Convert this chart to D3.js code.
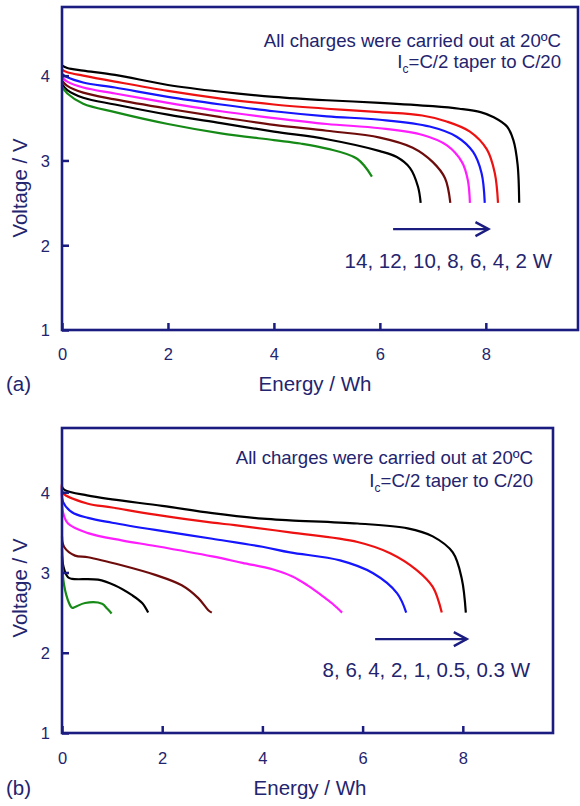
<!DOCTYPE html>
<html>
<head>
<meta charset="utf-8">
<script src="https://cdn.jsdelivr.net/npm/d3@7"></script>
<style>
  html, body { margin: 0; padding: 0; background: #fff; }
  svg { display: block; font-family: "Liberation Sans", Arial, Helvetica, sans-serif; }
</style>
</head>
<body>
<svg id="chart" width="580" height="806"></svg>
<script>
// Discharge curves, voltage (V) against delivered energy (Wh), for constant-power loads.

// Panel (a): 14 ... 2 W discharges
const powersA = ["2 W", "4 W", "6 W", "8 W", "10 W", "12 W", "14 W"];
const colorsA = ["#000000", "#ee1111", "#1515ff", "#ff1cff", "#6e0c0c", "#000000", "#168a16"];
const curveA2W = [[0,4.12],[0.1,4.09],[0.4,4.06],[1,4.01],[2,3.89],[3,3.81],[4,3.75],[5,3.71],[6,3.68],[7,3.64],[7.5,3.61],[7.9,3.57],[8.15,3.51],[8.4,3.40],[8.52,3.24],[8.6,2.95],[8.63,2.5]];
const curveA4W = [[0,4.07],[0.1,4.04],[0.4,4.0],[1,3.93],[2,3.82],[3,3.73],[4,3.66],[5,3.61],[6,3.57],[6.8,3.53],[7.26,3.46],[7.7,3.34],[8.02,3.13],[8.17,2.85],[8.23,2.5]];
const curveA6W = [[0,4.02],[0.1,3.98],[0.4,3.92],[1,3.86],[2,3.75],[3,3.66],[4,3.58],[5,3.52],[6,3.48],[6.94,3.40],[7.45,3.28],[7.76,3.10],[7.92,2.85],[7.98,2.5]];
const curveA8W = [[0,3.98],[0.1,3.93],[0.4,3.86],[1,3.79],[2,3.68],[3,3.58],[4,3.50],[5,3.43],[6,3.38],[6.81,3.30],[7.26,3.18],[7.55,2.98],[7.66,2.77],[7.70,2.5]];
const curveA10W = [[0,3.94],[0.1,3.88],[0.4,3.80],[1,3.72],[2,3.61],[3,3.51],[4,3.42],[5,3.35],[6,3.27],[6.62,3.15],[7.0,2.98],[7.23,2.79],[7.33,2.5]];
const curveA12W = [[0,3.90],[0.1,3.83],[0.4,3.74],[1,3.66],[2,3.54],[3,3.44],[4,3.34],[5,3.25],[6,3.11],[6.32,3.04],[6.57,2.91],[6.72,2.69],[6.77,2.5]];
const curveA14W = [[0,3.87],[0.1,3.79],[0.4,3.67],[1,3.57],[2,3.43],[3,3.32],[4,3.24],[4.5,3.2],[5,3.14],[5.57,3.02],[5.85,2.81]];

// Panel (b): 8 ... 0.3 W discharges
const powersB = ["0.3 W", "0.5 W", "1 W", "2 W", "4 W", "6 W", "8 W"];
const colorsB = ["#000000", "#ee1111", "#1515ff", "#ff1cff", "#6e0c0c", "#000000", "#168a16"];
const curveB03W = [[0,4.07],[0.05,4.03],[0.5,3.96],[1,3.91],[2,3.83],[3,3.74],[4,3.67],[4.55,3.65],[5.9,3.61],[6.9,3.55],[7.4,3.45],[7.8,3.25],[7.98,2.92],[8.06,2.5]];
const curveB05W = [[0,4.1],[0.02,3.99],[0.5,3.86],[1,3.81],[1.86,3.72],[3,3.62],[3.45,3.59],[4.55,3.50],[5.9,3.38],[6.55,3.24],[7.08,3.03],[7.4,2.82],[7.58,2.5]];
const curveB1W = [[0,4.05],[0.02,3.88],[0.2,3.75],[0.52,3.68],[1,3.62],[1.86,3.53],[3,3.42],[4,3.32],[4.55,3.25],[5.55,3.15],[6.21,2.99],[6.69,2.74],[6.87,2.5]];
const curveB2W = [[0,4.0],[0.02,3.75],[0.12,3.61],[0.52,3.49],[1.19,3.40],[1.86,3.33],[3,3.20],[3.6,3.12],[4.2,3.04],[4.6,2.95],[4.9,2.84],[5.15,2.73],[5.4,2.61],[5.59,2.5]];
const curveB4W = [[0,3.45],[0.04,3.32],[0.26,3.21],[0.52,3.19],[1.19,3.09],[1.86,2.97],[2.39,2.84],[2.72,2.68],[2.92,2.53],[2.99,2.5]];
const curveB6W = [[0,3.3],[0.03,3.07],[0.12,2.94],[0.2,2.92],[0.72,2.91],[1.05,2.84],[1.39,2.72],[1.6,2.62],[1.72,2.5]];
const curveB8W = [[0,3.2],[0.04,2.85],[0.14,2.62],[0.2,2.56],[0.26,2.57],[0.46,2.62],[0.8,2.61],[0.9,2.55],[0.99,2.49]];

// Axis ticks and labels shared by both panels
const xTicks = [0, 2, 4, 6, 8];
const yTicks = [1, 2, 3, 4];
const xTitle = "Energy / Wh";
const yTitle = "Voltage / V";
const noteLine1 = "All charges were carried out at 20ºC";
const noteLine2 = ["I", "c", "=C/2 taper to C/20"];
const arrowLabelA = "14, 12, 10, 8, 6, 4, 2 W";
const arrowLabelB = "8, 6, 4, 2, 1, 0.5, 0.3 W";

const AXIS = "#1b1c80";
const TEXT = "#23246e";

const svg = d3.select("#chart");

function drawPanel(p) {
  const g = svg.append("g");
  const x = d3.scaleLinear().domain(p.xDomain).range([p.left, p.right]);
  const y = d3.scaleLinear().domain(p.yDomain).range([p.bottom, p.top]);

  // curves
  const line = d3.line().x(d => x(d[0])).y(d => y(d[1])).curve(d3.curveCatmullRom.alpha(0.5));
  g.append("g").selectAll("path")
    .data(p.series)
    .join("path")
    .attr("d", d => line(d.values))
    .attr("fill", "none")
    .attr("stroke", d => d.color)
    .attr("stroke-width", 2.2)
    .attr("stroke-linejoin", "round")
    .attr("stroke-linecap", "butt");

  // inward ticks on bottom and left axes
  const xAxis = d3.axisBottom(x).tickValues(xTicks).tickSize(-7).tickFormat(d3.format("d")).tickSizeOuter(0);
  const yAxis = d3.axisLeft(y).tickValues(yTicks).tickSize(-7).tickFormat(d3.format("d")).tickSizeOuter(0);

  const gx = g.append("g").attr("transform", `translate(0,${p.bottom})`).call(xAxis)
    .attr("font-size", 16.5).attr("font-family", "Liberation Sans, Arial, sans-serif");
  gx.select(".domain").remove();
  gx.selectAll("line").attr("stroke", AXIS).attr("stroke-width", 2.5);
  gx.selectAll("text").attr("fill", TEXT).attr("y", 0).attr("dy", p.xTickDy);

  const gy = g.append("g").attr("transform", `translate(${p.left},0)`).call(yAxis)
    .attr("font-size", 16.5).attr("font-family", "Liberation Sans, Arial, sans-serif");
  gy.select(".domain").remove();
  gy.selectAll("line").attr("stroke", AXIS).attr("stroke-width", 2.5);
  gy.selectAll("text").attr("fill", TEXT).attr("x", -12).attr("dy", "0.36em");

  // frame
  g.append("rect")
    .attr("x", p.left).attr("y", p.top)
    .attr("width", p.right - p.left).attr("height", p.bottom - p.top)
    .attr("fill", "none").attr("stroke", AXIS).attr("stroke-width", 2.6);

  // axis titles
  g.append("text")
    .attr("x", p.xTitleX).attr("y", p.xTitleY)
    .attr("text-anchor", "middle").attr("font-size", 20.5).attr("fill", TEXT)
    .text(xTitle);
  g.append("text")
    .attr("transform", `translate(${p.yTitleX},${p.yTitleY}) rotate(-90)`)
    .attr("text-anchor", "middle").attr("font-size", 20.5).attr("fill", TEXT)
    .text(yTitle);

  // panel letter
  g.append("text")
    .attr("x", 6).attr("y", p.xTitleY)
    .attr("font-size", 20.5).attr("fill", TEXT)
    .text(p.letter);

  // charge-condition note
  g.append("text")
    .attr("x", p.noteX).attr("y", p.noteY1)
    .attr("text-anchor", "end").attr("font-size", 18.6).attr("fill", TEXT)
    .text(noteLine1);
  const n2 = g.append("text")
    .attr("x", p.noteX).attr("y", p.noteY2)
    .attr("text-anchor", "end").attr("font-size", 18.6).attr("fill", TEXT);
  n2.append("tspan").text(noteLine2[0]);
  n2.append("tspan").attr("font-size", 12).attr("dy", 5).text(noteLine2[1]);
  n2.append("tspan").attr("dy", -5).text(noteLine2[2]);

  // arrow pointing toward lower power
  const ax0 = x(p.arrow[0]), ax1 = x(p.arrow[1]), ay = y(p.arrow[2]);
  g.append("line")
    .attr("x1", ax0).attr("x2", ax1).attr("y1", ay).attr("y2", ay)
    .attr("stroke", AXIS).attr("stroke-width", 2.4);
  g.append("path")
    .attr("d", `M${ax1 - 13},${ay - 7}L${ax1},${ay}L${ax1 - 13},${ay + 7}`)
    .attr("fill", "none").attr("stroke", AXIS).attr("stroke-width", 2.4)
    .attr("stroke-linejoin", "miter");

  g.append("text")
    .attr("x", p.arrowLabelX).attr("y", p.arrowLabelY)
    .attr("text-anchor", "end").attr("font-size", 20.5).attr("fill", TEXT)
    .text(p.arrowLabel);
}

drawPanel({
  left: 62, right: 578, top: 7, bottom: 330,
  xDomain: [0, 9.74], yDomain: [1, 4.81],
  series: [curveA2W, curveA4W, curveA6W, curveA8W, curveA10W, curveA12W, curveA14W]
    .map((v, i) => ({ name: powersA[i], color: colorsA[i], values: v })),
  xTickDy: 30, xTitleX: 315, xTitleY: 391, yTitleX: 27, yTitleY: 188,
  letter: "(a)",
  noteX: 561, noteY1: 47, noteY2: 68,
  arrow: [6.25, 8.05, 2.19],
  arrowLabel: arrowLabelA, arrowLabelX: 552, arrowLabelY: 268
});

drawPanel({
  left: 62, right: 553, top: 428, bottom: 733,
  xDomain: [0, 9.8], yDomain: [1, 4.8],
  series: [curveB03W, curveB05W, curveB1W, curveB2W, curveB4W, curveB6W, curveB8W]
    .map((v, i) => ({ name: powersB[i], color: colorsB[i], values: v })),
  xTickDy: 31, xTitleX: 310, xTitleY: 795, yTitleX: 27, yTitleY: 588,
  letter: "(b)",
  noteX: 533, noteY1: 464, noteY2: 487,
  arrow: [6.25, 8.08, 2.17],
  arrowLabel: arrowLabelB, arrowLabelX: 530, arrowLabelY: 677
});
</script>
</body>
</html>
